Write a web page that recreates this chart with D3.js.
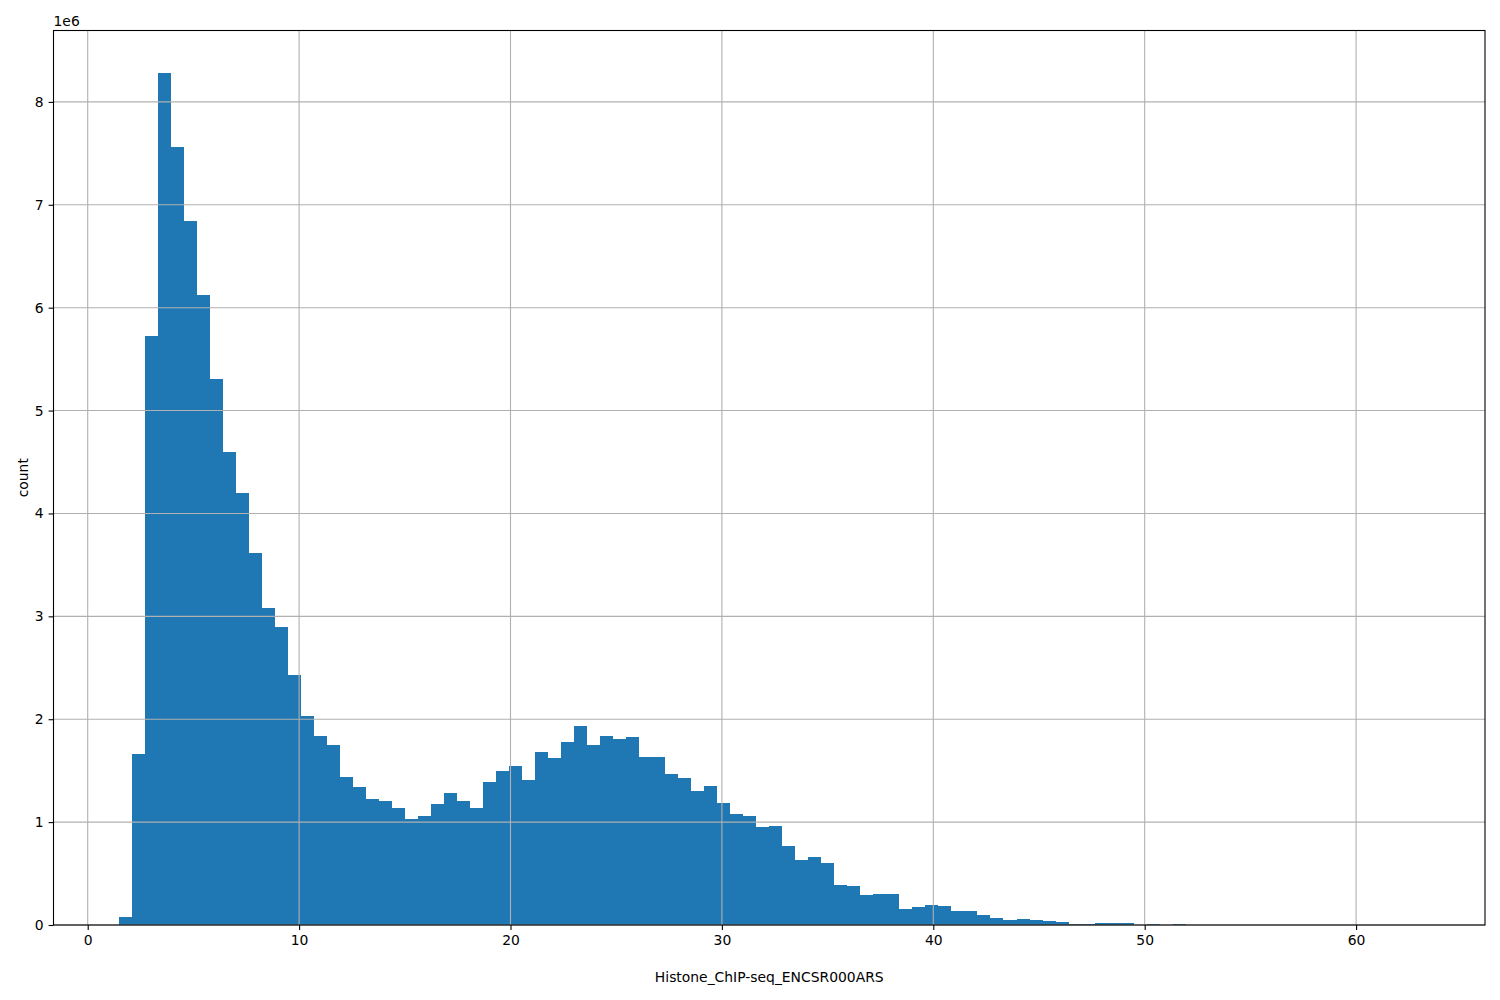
<!DOCTYPE html>
<html>
<head>
<meta charset="utf-8">
<script src="https://cdn.jsdelivr.net/npm/d3@7"></script>
<style>
  body { margin: 0; background: #fff; }
  text { font-family: "DejaVu Sans", sans-serif; font-size: 13.9px; fill: #000; }
</style>
</head>
<body>
<svg id="chart"></svg>
<script>
// Histogram bins (100 equal bins)
const binStart = 1.46;
const binWidth = 0.6156;

// Counts per bin, in millions (axis offset 1e6)
const counts = [
  0.078, 1.66, 5.72, 8.28, 7.56, 6.84, 6.12, 5.31, 4.60, 4.20,
  3.62, 3.08, 2.90, 2.43, 2.03, 1.84, 1.75, 1.44, 1.34, 1.22,
  1.21, 1.14, 1.03, 1.06, 1.18, 1.28, 1.21, 1.14, 1.39, 1.50,
  1.55, 1.41, 1.68, 1.62, 1.78, 1.93, 1.75, 1.84, 1.81, 1.83,
  1.63, 1.63, 1.47, 1.43, 1.30, 1.35, 1.19, 1.08, 1.06, 0.95,
  0.96, 0.77, 0.63, 0.66, 0.60, 0.39, 0.38, 0.29, 0.30, 0.30,
  0.155, 0.175, 0.195, 0.185, 0.136, 0.136, 0.097, 0.068, 0.049, 0.058,
  0.049, 0.039, 0.029, 0.012, 0.012, 0.019, 0.019, 0.019, 0.002, 0.010,
  0.001, 0.010, 0.0005, 0.0004, 0.0003, 0.0002, 0.0002, 0.0001, 0.0001, 0.0001,
  0.0001, 0, 0, 0.0001, 0, 0, 0, 0, 0, 0.0001
];

const xTicks = [0, 10, 20, 30, 40, 50, 60];
const yTicks = [0, 1, 2, 3, 4, 5, 6, 7, 8];
const xLabel = 'Histone_ChIP-seq_ENCSR000ARS';
const yLabel = 'count';
const offsetLabel = '1e6';

// Dimensions and margins
const margin = { top: 30.5, right: 15, bottom: 75, left: 53.5 };
const width = 1500 - margin.left - margin.right;
const height = 1000 - margin.top - margin.bottom;

const svg = d3.select('#chart')
    .attr('width', width + margin.left + margin.right)
    .attr('height', height + margin.top + margin.bottom)
    .append('g')
    .attr('transform', `translate(${margin.left},${margin.top})`);

// Scales, with matplotlib's 5% margins
const binEnd = binStart + binWidth * counts.length;
const span = binEnd - binStart;
const xScale = d3.scaleLinear()
    .domain([binStart - 0.05 * span, binEnd + 0.05 * span])
    .range([0, width]);

const yScale = d3.scaleLinear()
    .domain([0, d3.max(counts) * 1.05])
    .range([height, 0]);

// Bars
svg.selectAll('.bar')
    .data(counts)
    .enter()
    .append('rect')
    .attr('class', 'bar')
    .attr('x', (d, i) => xScale(binStart + i * binWidth))
    .attr('width', xScale(binStart + binWidth) - xScale(binStart))
    .attr('y', d => yScale(d))
    .attr('height', d => height - yScale(d))
    .attr('fill', '#1f77b4')
    .attr('shape-rendering', 'crispEdges');

// Grid lines (drawn over the bars, as in the source)
svg.append('g')
    .selectAll('line')
    .data(xTicks)
    .enter()
    .append('line')
    .attr('x1', d => xScale(d)).attr('x2', d => xScale(d))
    .attr('y1', 0).attr('y2', height)
    .attr('stroke', '#b0b0b0')
    .attr('stroke-width', 1.1);

svg.append('g')
    .selectAll('line')
    .data(yTicks)
    .enter()
    .append('line')
    .attr('x1', 0).attr('x2', width)
    .attr('y1', d => yScale(d)).attr('y2', d => yScale(d))
    .attr('stroke', '#b0b0b0')
    .attr('stroke-width', 1.1);

// Axes
const xAxis = svg.append('g')
    .attr('class', 'axis-x')
    .attr('transform', `translate(0, ${height})`)
    .call(d3.axisBottom(xScale).tickValues(xTicks).tickSizeInner(4.9).tickSizeOuter(0).tickPadding(4.9).tickFormat(d3.format('d')));

const yAxis = svg.append('g')
    .attr('class', 'axis-y')
    .call(d3.axisLeft(yScale).tickValues(yTicks).tickSizeInner(4.9).tickSizeOuter(0).tickPadding(4.9).tickFormat(d3.format('d')));

svg.selectAll('.axis-x path, .axis-y path').remove();
svg.selectAll('.tick line').attr('stroke', '#000').attr('stroke-width', 1.1);
svg.selectAll('.tick text').style('font-size', '13.9px').style('font-family', '"DejaVu Sans", sans-serif');

// Frame
svg.append('rect')
    .attr('x', 0).attr('y', 0)
    .attr('width', width).attr('height', height)
    .attr('fill', 'none')
    .attr('stroke', '#000')
    .attr('stroke-width', 1.1);

// Labels
svg.append('text')
    .attr('x', width / 2)
    .attr('y', height + 57)
    .attr('text-anchor', 'middle')
    .text(xLabel);

svg.append('text')
    .attr('transform', `translate(${-25.5}, ${height / 2}) rotate(-90)`)
    .attr('text-anchor', 'middle')
    .text(yLabel);

svg.append('text')
    .attr('x', 0)
    .attr('y', -5)
    .text(offsetLabel);
</script>
</body>
</html>
